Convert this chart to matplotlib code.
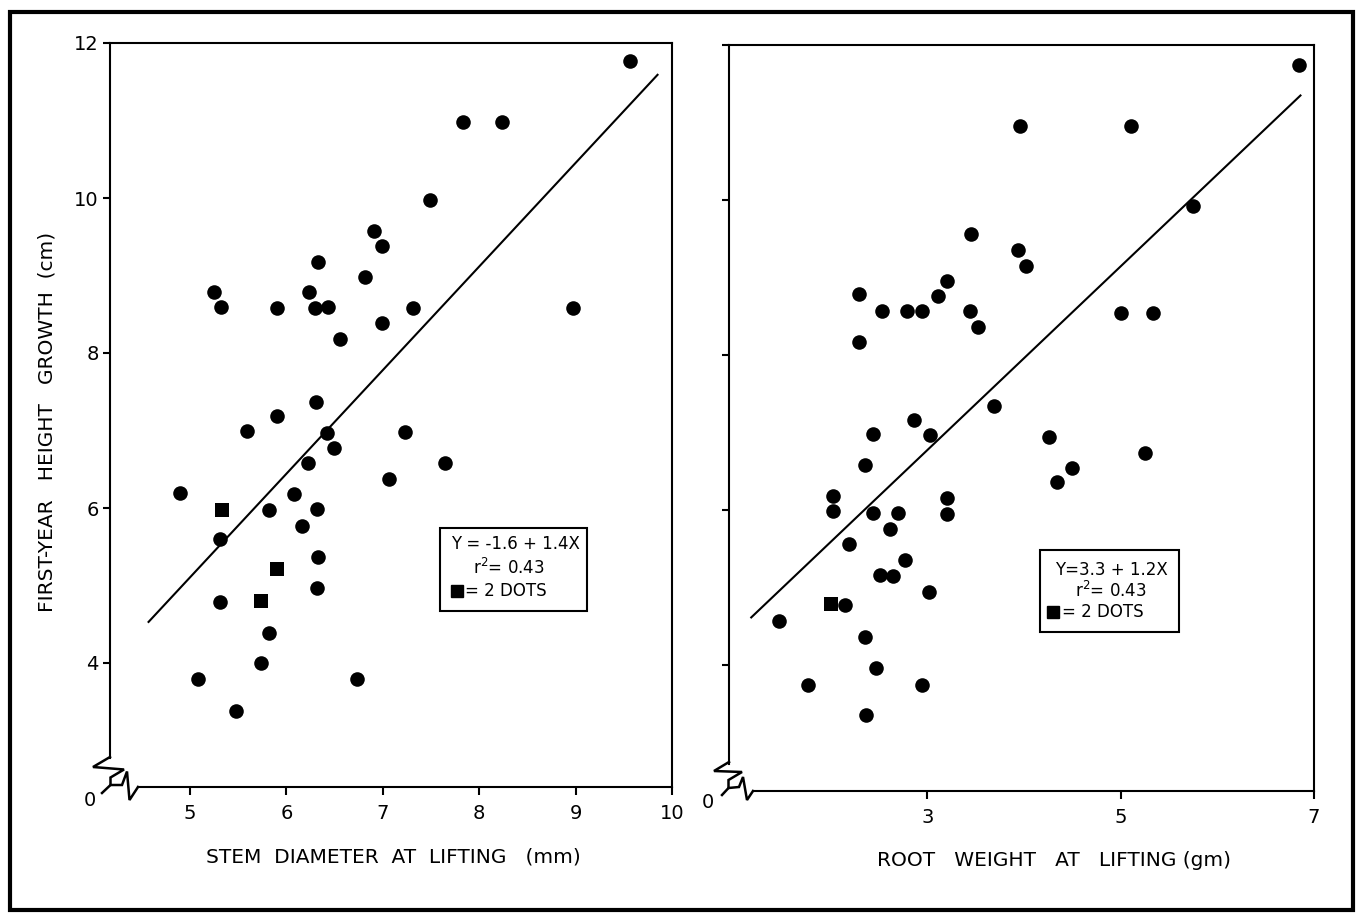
import matplotlib
matplotlib.use("Agg")
import matplotlib.pyplot as plt
from matplotlib.lines import Line2D
from matplotlib.patches import Rectangle
import numpy as np

plt.rcParams['font.family'] = ['DejaVu Sans']

# ---------------- data ----------------
stem_x = [9.56, 7.83, 8.24, 7.49, 6.91, 6.99, 6.33, 6.82, 5.25, 6.23, 5.32, 5.90, 6.30,
          6.43, 7.31, 8.97, 6.99, 6.56, 6.31, 5.90, 5.59, 6.42, 7.23, 6.49, 6.22, 7.65,
          7.06, 4.90, 6.08, 5.82, 6.32, 6.16, 5.31, 6.33, 6.32, 5.31, 5.82, 5.74, 5.08,
          6.73, 5.48]
stem_y = [11.77, 10.98, 10.98, 9.98, 9.58, 9.38, 9.18, 8.98, 8.79, 8.79, 8.59, 8.58, 8.58,
          8.59, 8.58, 8.58, 8.39, 8.18, 7.37, 7.19, 6.99, 6.97, 6.98, 6.78, 6.58, 6.58,
          6.37, 6.19, 6.18, 5.97, 5.99, 5.77, 5.60, 5.37, 4.97, 4.79, 4.39, 4.00, 3.79,
          3.79, 3.38]
stem_sq_x = [5.33, 5.90, 5.74]
stem_sq_y = [5.98, 5.21, 4.80]
stem_fit = (-1.58, 1.337)          # intercept, slope of drawn line
stem_fit_range = (4.57, 9.85)

root_x = [6.84, 3.96, 5.11, 5.75, 3.45, 3.94, 4.02, 2.29, 3.20, 3.11, 2.53, 2.79, 2.95,
          3.44, 5.00, 5.34, 3.53, 2.29, 3.69, 2.86, 2.44, 3.03, 4.26, 5.25, 2.36, 4.50,
          4.34, 2.03, 3.20, 2.03, 2.44, 2.70, 3.20, 2.61, 2.19, 2.77, 2.51, 2.65, 3.02,
          2.15, 1.47, 2.36, 2.47, 1.77, 2.95, 2.37]
root_y = [11.74, 10.96, 10.95, 9.92, 9.56, 9.36, 9.15, 8.79, 8.96, 8.76, 8.57, 8.57, 8.57,
          8.57, 8.55, 8.55, 8.36, 8.17, 7.35, 7.17, 6.98, 6.97, 6.95, 6.74, 6.58, 6.54,
          6.36, 6.18, 6.16, 5.99, 5.97, 5.97, 5.95, 5.76, 5.57, 5.36, 5.16, 5.15, 4.95,
          4.78, 4.57, 4.36, 3.96, 3.75, 3.75, 3.36]
root_sq_x = [2.00]
root_sq_y = [4.79]
root_fit = (3.22, 1.185)
root_fit_range = (1.18, 6.86)

stem_xticks = [5, 6, 7, 8, 9, 10]
root_xticks = [3, 5, 7]
yticks = [4, 6, 8, 10, 12]

stem_label = "STEM  DIAMETER  AT  LIFTING   (mm)"
root_label = "ROOT   WEIGHT   AT   LIFTING (gm)"
ylabel = "FIRST-YEAR   HEIGHT   GROWTH  (cm)"
stem_box = ["Y = -1.6 + 1.4X", "r$^2$= 0.43", "= 2 DOTS"]
root_box = ["Y=3.3 + 1.2X", "r$^2$= 0.43", "= 2 DOTS"]

# ---------------- figure ----------------
W, H = 1358, 915
fig = plt.figure(figsize=(W / 100, H / 100), dpi=100)

def fx(px):
    return px / W

def fy(py):
    return 1 - py / H

def add_ax(l, t, r, b):
    return fig.add_axes([fx(l), fy(b), fx(r) - fx(l), fy(t) - fy(b)])

axL = add_ax(110, 43, 672, 787)
axR = add_ax(729, 45, 1314, 791)

lw = 1.5
for ax, xs, ys, sqx, sqy, fit, rng, xt, xlim, ylim, ybound, xbound in [
    (axL, stem_x, stem_y, stem_sq_x, stem_sq_y, stem_fit, stem_fit_range, stem_xticks,
     (4.17, 10.0), (2.40, 12.0), 2.77, 4.46),
    (axR, root_x, root_y, root_sq_x, root_sq_y, root_fit, root_fit_range, root_xticks,
     (0.95, 7.0), (2.38, 12.0), 2.73, 1.20),
]:
    ax.scatter(xs, ys, s=110, c='black', marker='o', linewidths=0, zorder=3)
    ax.scatter(sqx, sqy, s=90, c='black', marker='s', linewidths=0, zorder=3)
    xx = np.array(rng)
    ax.plot(xx, fit[0] + fit[1] * xx, color='black', lw=1.5, zorder=2)
    ax.set_xlim(*xlim)
    ax.set_ylim(*ylim)
    ax.set_xticks(xt)
    ax.set_yticks(yticks)
    for s in ax.spines.values():
        s.set_linewidth(lw)
    ax.spines['left'].set_bounds(ybound, 12.0)
    ax.spines['bottom'].set_bounds(xbound, xlim[1])
    ax.tick_params(axis='x', direction='out', length=6, width=lw, labelsize=14, pad=6)
    ax.tick_params(axis='y', direction='out', length=5, width=lw, labelsize=14, pad=3)

axR.tick_params(axis='y', labelleft=False)

# axis-break zigzags (decoration, pixel coords)
def poly(pts, lwid=1.8):
    xs_ = [fx(p[0]) for p in pts]
    ys_ = [fy(p[1]) for p in pts]
    fig.add_artist(Line2D(xs_, ys_, transform=fig.transFigure, color='black',
                          lw=lwid, solid_joinstyle='miter'))

poly([(110, 757), (93, 767), (124, 769.5), (110.5, 777.5), (110.5, 785),
      (122, 785), (127, 771.5), (129.5, 800), (138, 787)])
poly([(110.5, 785), (102, 793)])
poly([(729, 762), (714, 771), (742, 772), (728.5, 780), (728.5, 788),
      (739, 787), (743, 777), (747, 800), (753, 791)])
poly([(728.5, 788), (722, 795)])

fig.text(fx(90), fy(800), "0", fontsize=14, ha='center', va='center')
fig.text(fx(708), fy(803), "0", fontsize=14, ha='center', va='center')

# axis labels
fig.text(fx(393), fy(857), stem_label, fontsize=14.5, ha='center', va='center')
fig.text(fx(1054), fy(860), root_label, fontsize=14.5, ha='center', va='center')
fig.text(fx(47), fy(422), ylabel, fontsize=14.5, ha='center', va='center', rotation=90)

# equation boxes
def eq_box(l, t, r, b, lines, xs_, ys_, sq_xy):
    fig.add_artist(Rectangle((fx(l), fy(b)), fx(r) - fx(l), fy(t) - fy(b),
                             transform=fig.transFigure, fill=False, lw=1.5,
                             edgecolor='black'))
    for txt, x0, y0 in zip(lines, xs_, ys_):
        fig.text(fx(x0), fy(y0), txt, fontsize=12, ha='left', va='center')
    fig.add_artist(Line2D([fx(sq_xy[0])], [fy(sq_xy[1])], transform=fig.transFigure,
                          marker='s', markersize=9, color='black', lw=0))

eq_box(440, 528, 587, 611, stem_box, [451, 473, 465], [544, 568, 591], (457, 591))
eq_box(1040, 550, 1179, 632, root_box, [1055, 1075, 1062], [570, 591, 612], (1053, 612))

# outer frame
fig.add_artist(Rectangle((fx(10), fy(910)), fx(1353) - fx(10), fy(12) - fy(910),
                         transform=fig.transFigure, fill=False, lw=3, edgecolor='black'))

fig.savefig("out.png", dpi=100)
